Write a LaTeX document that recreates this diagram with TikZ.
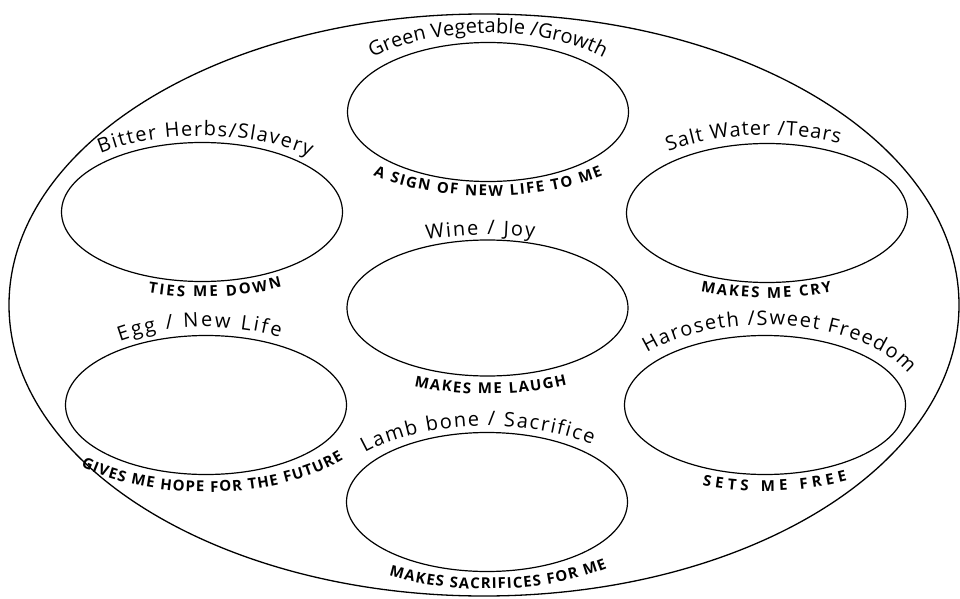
\documentclass[tikz,border=0pt]{standalone}
\usepackage{fontspec}
\usetikzlibrary{shapes.geometric,decorations.text}
\newfontfamily\handfont{Open Sans}
\newcommand\titlefont{\handfont\fontsize{20}{20}\selectfont}
\newcommand\capsfont{\handfont\bfseries\fontsize{15}{15}\selectfont}
\tikzset{
  plate/.style={draw, ellipse, line width=1.3pt, inner sep=0pt, minimum width=950pt, minimum height=582pt},
  dish/.style={draw, ellipse, line width=1.2pt, inner sep=0pt, minimum width=281pt, minimum height=139pt},
  title/.style={decorate, decoration={text along path, text align=fit to path, text={|\titlefont|#1}}},
  caption/.style={decorate, decoration={text along path, text align=fit to path, text={|\capsfont|#1}}},
}
\begin{document}
\begin{tikzpicture}[x=1pt,y=1pt]
\useasboundingbox (0,0) rectangle (960,598);
\node[plate] (P) at (484,293) {};
\node[dish] (G) at (488,486) {};
\node[dish] (B) at (202,386) {};
\node[dish] (S) at (767,385) {};
\node[dish, minimum height=136pt] (W) at (487.5,290) {};
\node[dish] (E) at (206,193) {};
\node[dish] (H) at (765,193) {};
\node[dish] (L) at (487,96) {};
% titles
\path[title={Green Vegetable /Growth}] ([shift={(137:158 and 79)}]G.center) arc[start angle=137, end angle=43, x radius=158, y radius=79];
\path[title={Bitter Herbs/Slavery}] ([shift={(130:158 and 76)}]B.center) arc[start angle=130, end angle=47, x radius=158, y radius=76];
\path[title={Salt Water /Tears}] ([shift={(128:160 and 78)}]S.center) arc[start angle=128, end angle=63, x radius=160, y radius=78];
\path[title={Wine / Joy}] ([shift={(111:170 and 73)}]W.center) arc[start angle=111, end angle=74, x radius=170, y radius=73];
\path[title={Egg / New Life}] ([shift={(125:150 and 78)}]E.center) arc[start angle=125, end angle=60.5, x radius=150, y radius=78];
\path[title={Haroseth /Sweet Freedom}] ([shift={(139.6:155 and 80)}]H.center) arc[start angle=139.6, end angle=22.7, x radius=155, y radius=80];
\path[title={Lamb bone / Sacrifice}] ([shift={(139.7:160 and 76)}]L.center) arc[start angle=139.7, end angle=49, x radius=160, y radius=76];
% captions
\path[caption={A SIGN OF NEW LIFE TO ME}] ([shift={(229:175 and 84)}]G.center) arc[start angle=229, end angle=311, x radius=175, y radius=84];
\path[caption={TIES ME DOWN}] ([shift={(251.5:170 and 85)}]B.center) arc[start angle=251.5, end angle=298, x radius=170, y radius=85];
\path[caption={MAKES ME CRY}] ([shift={(247:170 and 85)}]S.center) arc[start angle=247, end angle=292.5, x radius=170, y radius=85];
\path[caption={MAKES ME LAUGH}] ([shift={(245.2:175 and 86)}]W.center) arc[start angle=245.2, end angle=297, x radius=175, y radius=86];
\path[caption={GIVES ME HOPE FOR THE FUTURE}] ([shift={(225:177 and 87)}]E.center) arc[start angle=225, end angle=321, x radius=177, y radius=87];
\path[caption={SETS ME FREE}] ([shift={(249:175 and 86)}]H.center) arc[start angle=249, end angle=298, x radius=175, y radius=86];
\path[caption={MAKES SACRIFICES FOR ME}] ([shift={(238:185 and 87)}]L.center) arc[start angle=238, end angle=310.5, x radius=185, y radius=87];
\end{tikzpicture}
\end{document}
